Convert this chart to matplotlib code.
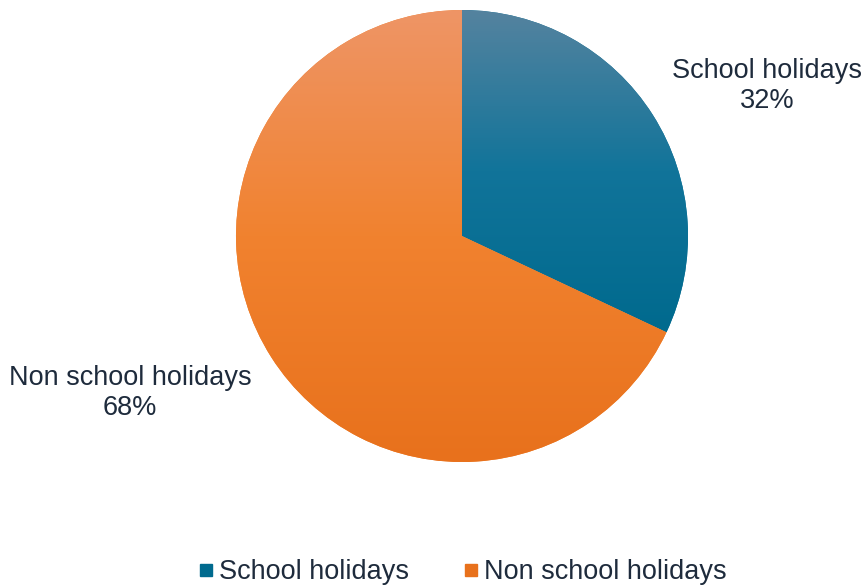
import numpy as np
import matplotlib.pyplot as plt
from matplotlib.colors import LinearSegmentedColormap

plt.rcParams['font.family'] = ['Liberation Sans', 'DejaVu Sans']

labels = ['School holidays', 'Non school holidays']
shares = [32, 68]
# shading stops (top, middle, bottom) for each slice
shades = [['#55839f', '#11749a', '#006a8e'],
          ['#ee9566', '#f1822f', '#e8711c']]
base_colors = ['#0a6f94', '#f0802c']
text_color = '#1e2b3c'

W, H = 867, 585
fig = plt.figure(figsize=(W / 100, H / 100), dpi=100)
ax = fig.add_axes([0, 0, 1, 1])

cx, cy, r = 462, H - 236, 226
wedges, _ = ax.pie(shares, colors=base_colors, startangle=90, counterclock=False,
                   center=(cx, cy), radius=r, wedgeprops=dict(linewidth=0))

# vertical shading inside each slice, spanning the slice's own height
grad = np.linspace(0, 1, 256).reshape(-1, 1)
for w, stops in zip(wedges, shades):
    cmap = LinearSegmentedColormap.from_list('g', stops)
    ext = w.get_path().get_extents()
    im = ax.imshow(grad, cmap=cmap, aspect='auto',
                   extent=(ext.x0, ext.x1, ext.y0, ext.y1), origin='upper', zorder=2)
    im.set_clip_path(w)

fs = 19.5
ax.text(767, H - 86, f'{labels[0]}\n{shares[0]}%', ha='center', va='center',
        fontsize=fs, color=text_color, linespacing=1.2)
ax.text(130, H - 393, f'{labels[1]}\n{shares[1]}%', ha='center', va='center',
        fontsize=fs, color=text_color, linespacing=1.2)

handles = [plt.Line2D([], [], marker='s', linestyle='', markersize=9,
                      markerfacecolor=s[2], markeredgecolor=s[2]) for s in shades]
ax.legend(handles, labels, loc='center', bbox_to_anchor=(463 / W, 1 - 572 / H),
          ncol=2, frameon=False, fontsize=fs, handlelength=0.5, handletextpad=0.22,
          columnspacing=2.05, labelcolor=text_color)

ax.set_xlim(0, W)
ax.set_ylim(0, H)
ax.set_aspect('equal')
ax.axis('off')

fig.savefig('out.png', dpi=100)
